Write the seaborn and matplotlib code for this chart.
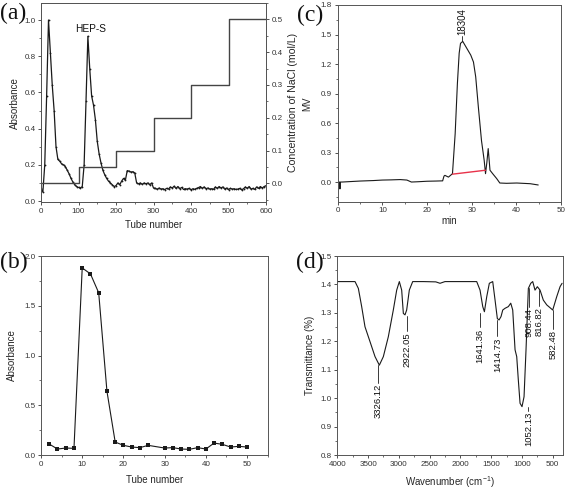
import numpy as np
import pandas as pd
import matplotlib
matplotlib.use("Agg")
import matplotlib.pyplot as plt
from matplotlib.ticker import MultipleLocator
import seaborn as sns

sns.set_style("ticks")
plt.rcParams['font.family'] = ['Liberation Sans', 'DejaVu Sans']
plt.rcParams['axes.linewidth'] = 0.7
plt.rcParams['mathtext.fontset'] = 'custom'
plt.rcParams['mathtext.rm'] = 'Liberation Sans'
plt.rcParams['mathtext.it'] = 'Liberation Sans:italic'

# ---------------- data ----------------
# (a) DEAE elution profile
tube_a = list(range(0, 605, 5))
abs_a = [0.07, 0.05, 0.20, 0.58, 1.00, 0.82, 0.64, 0.50, 0.30, 0.23,
         0.22, 0.205, 0.20, 0.19, 0.17, 0.15, 0.125, 0.105, 0.09, 0.08,
         0.075, 0.072, 0.08, 0.20, 0.55, 0.91, 0.73, 0.58, 0.53, 0.45,
         0.33, 0.26, 0.21, 0.17, 0.145, 0.125, 0.11, 0.10, 0.09, 0.08,
         0.085, 0.10, 0.09, 0.11, 0.125, 0.115, 0.168, 0.165, 0.16, 0.162,
         0.155, 0.10, 0.095, 0.10, 0.092, 0.10, 0.095, 0.10, 0.09, 0.10,
         0.072, 0.07, 0.065, 0.072, 0.066, 0.068, 0.063, 0.07, 0.066, 0.078,
         0.072, 0.082, 0.07, 0.08, 0.068, 0.075, 0.064, 0.068, 0.066, 0.07,
         0.062, 0.068, 0.065, 0.07, 0.074, 0.08, 0.07, 0.078, 0.068, 0.072,
         0.066, 0.068, 0.065, 0.078, 0.07, 0.08, 0.072, 0.078, 0.066, 0.072,
         0.063, 0.07, 0.066, 0.068, 0.064, 0.066, 0.07, 0.062, 0.068, 0.078,
         0.07, 0.08, 0.066, 0.07, 0.064, 0.078, 0.07, 0.08, 0.072, 0.08,
         0.085]
nacl_tube = [0, 100, 200, 300, 400, 500, 600]
nacl_conc = [0.0, 0.05, 0.1, 0.2, 0.3, 0.5, 0.5]

# (b) gel filtration profile
tube_b = [2, 4, 6, 8, 10, 12, 14, 16, 18, 20, 22, 24, 26, 30, 32, 34, 36, 38, 40, 42, 44, 46, 48, 50]
abs_b = [0.11, 0.06, 0.07, 0.067, 1.88, 1.82, 1.63, 0.64, 0.13, 0.097, 0.08, 0.074, 0.097,
         0.07, 0.074, 0.06, 0.057, 0.074, 0.06, 0.12, 0.107, 0.08, 0.087, 0.08]

# (c) HPGPC chromatogram
t_c = [0, 0.4, 0.5, 0.6, 1, 3, 5, 8, 10, 12, 14, 15.5, 16.5, 18, 20, 22, 23.5, 23.8, 24.0,
       24.8, 25.7, 26.3, 26.8, 27.2, 27.5, 28.0, 28.9, 29.8, 30.4, 30.9, 31.5, 32.2, 32.8,
       33.1, 33.4, 33.7, 34.1, 34.7, 35.6, 36.3, 37.8, 40.1, 43.1, 44.9]
mv_c = [0.0, 0.0, -0.07, 0.0, 0.0, 0.005, 0.01, 0.015, 0.02, 0.022, 0.025, 0.02, 0.0, 0.003,
        0.008, 0.01, 0.012, 0.06, 0.068, 0.05, 0.085, 0.49, 1.0, 1.31, 1.41, 1.43, 1.36, 1.29,
        1.22, 1.07, 0.76, 0.42, 0.22, 0.085, 0.2, 0.34, 0.12, 0.085, 0.035, -0.01, -0.013,
        -0.01, -0.017, -0.03]
base_t = [25.7, 33.1]
base_mv = [0.08, 0.12]
peak_label = "18304"
peak_t = 27.8
peak_mv = 1.43

# (d) FT-IR spectrum
wn_d = [4000, 3800, 3712, 3658, 3604, 3550, 3469, 3387, 3317, 3252, 3171, 3090, 3035, 2992,
        2954, 2927, 2900, 2873, 2830, 2775, 2600, 2400, 2331, 2250, 2006, 1800, 1735, 1681,
        1637, 1610, 1572, 1530, 1475, 1437, 1400, 1372, 1340, 1312, 1275, 1221, 1182, 1150,
        1112, 1085, 1059, 1031, 999, 966, 934, 896, 857, 825, 788, 750, 706, 653, 597, 500,
        435, 381, 348]
tr_d = [1.41, 1.41, 1.41, 1.386, 1.322, 1.251, 1.199, 1.146, 1.116, 1.146, 1.216, 1.31, 1.38,
        1.41, 1.38, 1.298, 1.293, 1.31, 1.38, 1.41, 1.41, 1.409, 1.404, 1.41, 1.41, 1.41, 1.41,
        1.38, 1.322, 1.304, 1.357, 1.404, 1.41, 1.345, 1.28, 1.275, 1.287, 1.31, 1.316, 1.322,
        1.334, 1.31, 1.17, 1.146, 1.064, 0.982, 0.97, 1.005, 1.17, 1.386, 1.404, 1.41, 1.38,
        1.392, 1.38, 1.345, 1.328, 1.31, 1.357, 1.392, 1.404]
ir_labels = ["3326.12", "2922.05", "1641.36", "1414.73", "1052.13", "908.44", "816.82", "582.48"]
ir_label_x = [3334, 2863, 1681, 1400, 896, 884, 722, 490]
ir_label_y = [1.05, 1.232, 1.245, 1.213, 0.952, 1.316, 1.321, 1.24]
ir_leader_y = [1.116, 1.29, 1.30, 1.275, 0.97, 1.386, 1.38, 1.31]

# ---------------- figure ----------------
W, H = 567, 490
fig = plt.figure(figsize=(W / 100, H / 100), dpi=100)

def frac(l, t, r, b):
    return [l / W, 1 - b / H, (r - l) / W, (b - t) / H]

axA = fig.add_axes(frac(41, 3, 266, 202.3))
axC = fig.add_axes(frac(337.7, 5, 561, 201.7))
axB = fig.add_axes(frac(41, 256, 267.7, 455))
axD = fig.add_axes(frac(337.3, 256, 562.7, 455))

LC = "#1a1a1a"
TICK_FS = 5.8
LAB_FS = 7

def style(ax):
    for s in ax.spines.values():
        s.set_visible(True)
        s.set_color("#555555")
        s.set_linewidth(0.7)
    ax.tick_params(which="major", direction="out", length=2.5, width=0.6,
                   labelsize=TICK_FS, pad=1.5, colors="#333333",
                   top=False, right=False)
    ax.tick_params(which="minor", direction="out", length=1.5, width=0.5,
                   top=False, right=False, colors="#333333")

# ----- (a)
dfa = pd.DataFrame({"tube": tube_a, "abs": abs_a})
sns.lineplot(data=dfa, x="tube", y="abs", ax=axA, color=LC, lw=0.9,
             marker="o", markersize=1.3, markeredgewidth=0)
axA.set_xlim(0, 600)
axA.set_ylim(-0.007, 1.094)
axA.xaxis.set_major_locator(MultipleLocator(100))
axA.xaxis.set_minor_locator(MultipleLocator(50))
axA.yaxis.set_major_locator(MultipleLocator(0.2))
axA.yaxis.set_minor_locator(MultipleLocator(0.1))
axA.set_xlabel("Tube number", fontsize=LAB_FS, labelpad=4)
axA.set_ylabel("Absorbance", fontsize=LAB_FS, labelpad=3)
style(axA)
axA.text(131, 0.95, "HEP-S", fontsize=7.3, ha="center", va="center", color="#111111")

axA2 = axA.twinx()
dfn = pd.DataFrame({"tube": nacl_tube, "conc": nacl_conc})
sns.lineplot(data=dfn, x="tube", y="conc", ax=axA2, color="#444444", lw=1.0,
             drawstyle="steps-post")
axA2.set_ylim(-0.058, 0.55)
axA2.yaxis.set_major_locator(MultipleLocator(0.1))
axA2.yaxis.set_minor_locator(MultipleLocator(0.05))
axA2.set_ylabel("Concentration of NaCl (mol/L)", fontsize=7.6, labelpad=4)
axA2.tick_params(which="major", direction="out", length=2.5, width=0.6,
                 labelsize=TICK_FS, pad=1.5, colors="#333333")
axA2.tick_params(which="minor", direction="out", length=1.5, width=0.5, colors="#333333")
for s in axA2.spines.values():
    s.set_color("#555555")
    s.set_linewidth(0.7)

# ----- (c)
dfc = pd.DataFrame({"t": t_c, "mv": mv_c})
sns.lineplot(data=dfc, x="t", y="mv", ax=axC, color=LC, lw=0.8)
sns.lineplot(x=base_t, y=base_mv, ax=axC, color="#e8324a", lw=1.0)
axC.plot([peak_t, peak_t], [peak_mv, peak_mv + 0.055], color=LC, lw=0.6)
axC.text(peak_t, peak_mv + 0.06, peak_label, rotation=90, fontsize=7,
         ha="center", va="bottom", color="#111111")
axC.set_xlim(0, 50)
axC.set_ylim(-0.2, 1.8)
axC.xaxis.set_major_locator(MultipleLocator(10))
axC.xaxis.set_minor_locator(MultipleLocator(5))
axC.yaxis.set_major_locator(MultipleLocator(0.3))
axC.yaxis.set_minor_locator(MultipleLocator(0.15))
axC.set_xlabel("min", fontsize=LAB_FS, labelpad=1)
axC.set_ylabel("MV", fontsize=LAB_FS, labelpad=6)
style(axC)

# ----- (b)
dfb = pd.DataFrame({"tube": tube_b, "abs": abs_b})
sns.lineplot(data=dfb, x="tube", y="abs", ax=axB, color=LC, lw=0.8,
             marker="s", markersize=3, markeredgewidth=0)
axB.set_xlim(0, 55)
axB.set_ylim(0, 2.0)
axB.xaxis.set_major_locator(MultipleLocator(10))
axB.xaxis.set_minor_locator(MultipleLocator(5))
axB.yaxis.set_major_locator(MultipleLocator(0.5))
axB.yaxis.set_minor_locator(MultipleLocator(0.25))
axB.set_xlabel("Tube number", fontsize=LAB_FS, labelpad=5)
axB.set_ylabel("Absorbance", fontsize=LAB_FS, labelpad=5)
style(axB)

# ----- (d)
dfd = pd.DataFrame({"wn": wn_d, "tr": tr_d})
sns.lineplot(data=dfd, x="wn", y="tr", ax=axD, color=LC, lw=0.8, sort=False)
for lab, lx, ly, top in zip(ir_labels, ir_label_x, ir_label_y, ir_leader_y):
    axD.plot([lx, lx], [top, ly + 0.004], color=LC, lw=0.6)
    axD.text(lx, ly, lab, rotation=90, fontsize=6.8, ha="center", va="top",
             color="#111111", clip_on=False)
axD.set_xlim(4000, 338)
axD.set_ylim(0.8, 1.5)
axD.xaxis.set_major_locator(MultipleLocator(500))
axD.xaxis.set_minor_locator(MultipleLocator(250))
axD.yaxis.set_major_locator(MultipleLocator(0.1))
axD.yaxis.set_minor_locator(MultipleLocator(0.05))
axD.set_xlabel("Wavenumber (cm$^{-1}$)", fontsize=LAB_FS, labelpad=5)
axD.set_ylabel("Transmittance (%)", fontsize=LAB_FS, labelpad=4)
style(axD)

# panel letters
for (x, y, s) in [(0, 3, "(a)"), (297, 5, "(c)"), (0, 252, "(b)"), (296, 252, "(d)")]:
    fig.text(x / W, 1 - y / H, s, fontsize=17, family="Liberation Serif",
             ha="left", va="top", color="#111111")

fig.savefig("out.png", dpi=100)
